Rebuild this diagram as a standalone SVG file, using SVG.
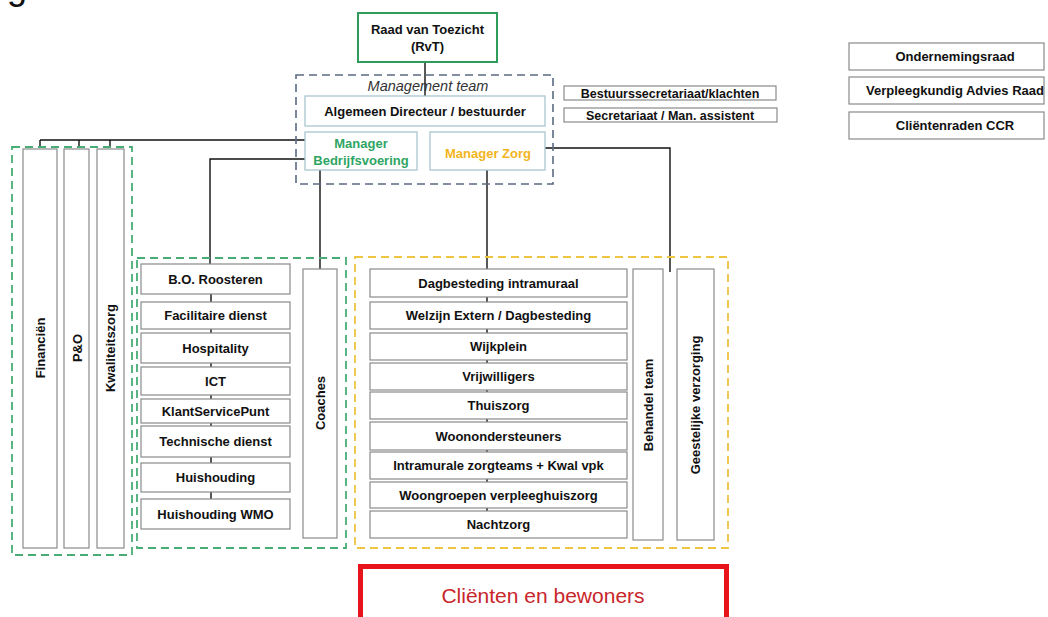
<svg xmlns="http://www.w3.org/2000/svg" width="1048" height="617" viewBox="0 0 1048 617">
<style>
text{font-family:"Liberation Sans",Arial,sans-serif;font-size:13px;font-weight:bold;fill:#111;text-anchor:middle}
.box{fill:#fff;stroke:#8a8a8a;stroke-width:1.2}
.mt{fill:#fff;stroke:#a9c6d0;stroke-width:1.3}
.gdash{fill:none;stroke:#47ad74;stroke-width:1.8;stroke-dasharray:8 5}
.ydash{fill:none;stroke:#eec441;stroke-width:1.8;stroke-dasharray:8 5}
.conn{fill:none;stroke:#111;stroke-width:1.4}
</style>
<rect width="1048" height="617" fill="#fff"/>
<text x="7" y="-1" style="font-size:36px;font-weight:normal;text-anchor:start">g</text>

<g id="connectors">
<path class="conn" d="M425 62V96"/>
<path class="conn" d="M40 140H305M40 140V148M79 140V148M110 140V148"/>
<path class="conn" d="M305 159H210V264M211 264V529"/>
<path class="conn" d="M320 170V269"/>
<path class="conn" d="M487 170V538"/>
<path class="conn" d="M545 148H670V272"/>
</g>

<g id="rvt">
<rect x="358" y="13" width="139" height="49" fill="#fff" stroke="#2f9c5c" stroke-width="2"/>
<text x="427.5" y="34">Raad van Toezicht</text>
<text x="427.5" y="51">(RvT)</text>
</g>

<g id="management-team">
<rect x="296" y="75" width="257" height="109" fill="none" stroke="#5b6b82" stroke-width="1.6" stroke-dasharray="8 5"/>
<text x="428" y="91" style="font-weight:normal;font-style:italic;font-size:14.5px;fill:#333">Management team</text>
</g>
<g id="algemeen-directeur">
<rect class="mt" x="305" y="96" width="240" height="30"/>
<text x="425" y="115.5">Algemeen Directeur / bestuurder</text>
</g>
<g id="manager-bedrijfsvoering">
<rect class="mt" x="305" y="132" width="112" height="38"/>
<text x="361" y="147.5" style="fill:#2fa563">Manager</text>
<text x="361" y="165" style="fill:#2fa563">Bedrijfsvoering</text>
</g>
<g id="manager-zorg">
<rect class="mt" x="430" y="132" width="115" height="38"/>
<text x="488" y="157.5" style="fill:#f2b521">Manager Zorg</text>
</g>

<g id="bestuurssecretariaat">
<rect class="box" x="564" y="86" width="212" height="14"/>
<text x="670" y="97.5" style="font-size:12.5px">Bestuurssecretariaat/klachten</text>
</g>
<g id="secretariaat">
<rect class="box" x="564" y="108" width="213" height="14"/>
<text x="670" y="119.5" style="font-size:12.5px">Secretariaat / Man. assistent</text>
</g>

<g id="ondernemingsraad">
<rect class="box" x="849" y="43" width="195" height="27"/>
<text x="955" y="61">Ondernemingsraad</text>
</g>
<g id="verpleegkundig-advies-raad">
<rect class="box" x="849" y="77" width="195" height="27"/>
<text x="955" y="95">Verpleegkundig Advies Raad</text>
</g>
<g id="clientenraden">
<rect class="box" x="849" y="112" width="195" height="27"/>
<text x="955" y="130">Cliëntenraden CCR</text>
</g>

<g id="staf-groep">
<rect class="gdash" x="12" y="147" width="120" height="408"/>
</g>
<g id="financien">
<rect class="box" x="23" y="149" width="34" height="399"/>
<text transform="translate(44.5,348) rotate(-90)">Financiën</text>
</g>
<g id="po">
<rect class="box" x="64" y="149" width="25" height="399"/>
<text transform="translate(81.5,348) rotate(-90)">P&amp;O</text>
</g>
<g id="kwaliteitszorg">
<rect class="box" x="97" y="149" width="27" height="399"/>
<text transform="translate(115,348) rotate(-90)">Kwaliteitszorg</text>
</g>

<g id="bedrijfsvoering-groep">
<rect class="gdash" x="137" y="258" width="209" height="290"/>
</g>
<g id="bo-roosteren"><rect class="box" x="141" y="264" width="149" height="30"/><text x="215.5" y="283.5">B.O. Roosteren</text></g>
<g id="facilitaire-dienst"><rect class="box" x="141" y="302" width="149" height="27"/><text x="215.5" y="320">Facilitaire dienst</text></g>
<g id="hospitality"><rect class="box" x="141" y="333" width="149" height="30"/><text x="215.5" y="352.5">Hospitality</text></g>
<g id="ict"><rect class="box" x="141" y="367" width="149" height="28"/><text x="215.5" y="385.5">ICT</text></g>
<g id="klantservicepunt"><rect class="box" x="141" y="399" width="149" height="24"/><text x="215.5" y="415.5">KlantServicePunt</text></g>
<g id="technische-dienst"><rect class="box" x="141" y="426" width="149" height="31"/><text x="215.5" y="446">Technische dienst</text></g>
<g id="huishouding"><rect class="box" x="141" y="463" width="149" height="29"/><text x="215.5" y="482">Huishouding</text></g>
<g id="huishouding-wmo"><rect class="box" x="141" y="499" width="149" height="30"/><text x="215.5" y="518.5">Huishouding WMO</text></g>
<g id="coaches">
<rect class="box" x="303" y="269" width="34" height="269"/>
<text transform="translate(324.5,403) rotate(-90)">Coaches</text>
</g>

<g id="zorg-groep">
<rect class="ydash" x="355" y="257" width="373" height="291"/>
</g>
<g id="dagbesteding-intramuraal"><rect class="box" x="370" y="269" width="257" height="28"/><text x="498.5" y="287.5">Dagbesteding intramuraal</text></g>
<g id="welzijn-extern"><rect class="box" x="370" y="302" width="257" height="27"/><text x="498.5" y="320">Welzijn Extern / Dagbesteding</text></g>
<g id="wijkplein"><rect class="box" x="370" y="333" width="257" height="27"/><text x="498.5" y="351">Wijkplein</text></g>
<g id="vrijwilligers"><rect class="box" x="370" y="363" width="257" height="27"/><text x="498.5" y="381">Vrijwilligers</text></g>
<g id="thuiszorg"><rect class="box" x="370" y="392" width="257" height="27"/><text x="498.5" y="410">Thuiszorg</text></g>
<g id="woonondersteuners"><rect class="box" x="370" y="422" width="257" height="28"/><text x="498.5" y="440.5">Woonondersteuners</text></g>
<g id="intramurale-zorgteams"><rect class="box" x="370" y="452" width="257" height="27"/><text x="498.5" y="470">Intramurale zorgteams + Kwal vpk</text></g>
<g id="woongroepen"><rect class="box" x="370" y="482" width="257" height="26"/><text x="498.5" y="499.5">Woongroepen verpleeghuiszorg</text></g>
<g id="nachtzorg"><rect class="box" x="370" y="511" width="257" height="27"/><text x="498.5" y="529">Nachtzorg</text></g>
<g id="behandel-team">
<rect class="box" x="633" y="269" width="30" height="271"/>
<text transform="translate(652.5,405) rotate(-90)">Behandel team</text>
</g>
<g id="geestelijke-verzorging">
<rect class="box" x="677" y="269" width="37" height="271"/>
<text transform="translate(700,405) rotate(-90)">Geestelijke verzorging</text>
</g>

<g id="clienten">
<rect x="360.5" y="566.5" width="366" height="70" fill="#fff" stroke="#e8141b" stroke-width="5"/>
<text x="543" y="603" style="font-weight:normal;font-size:21px;fill:#c8262b">Cliënten en bewoners</text>
</g>
</svg>
